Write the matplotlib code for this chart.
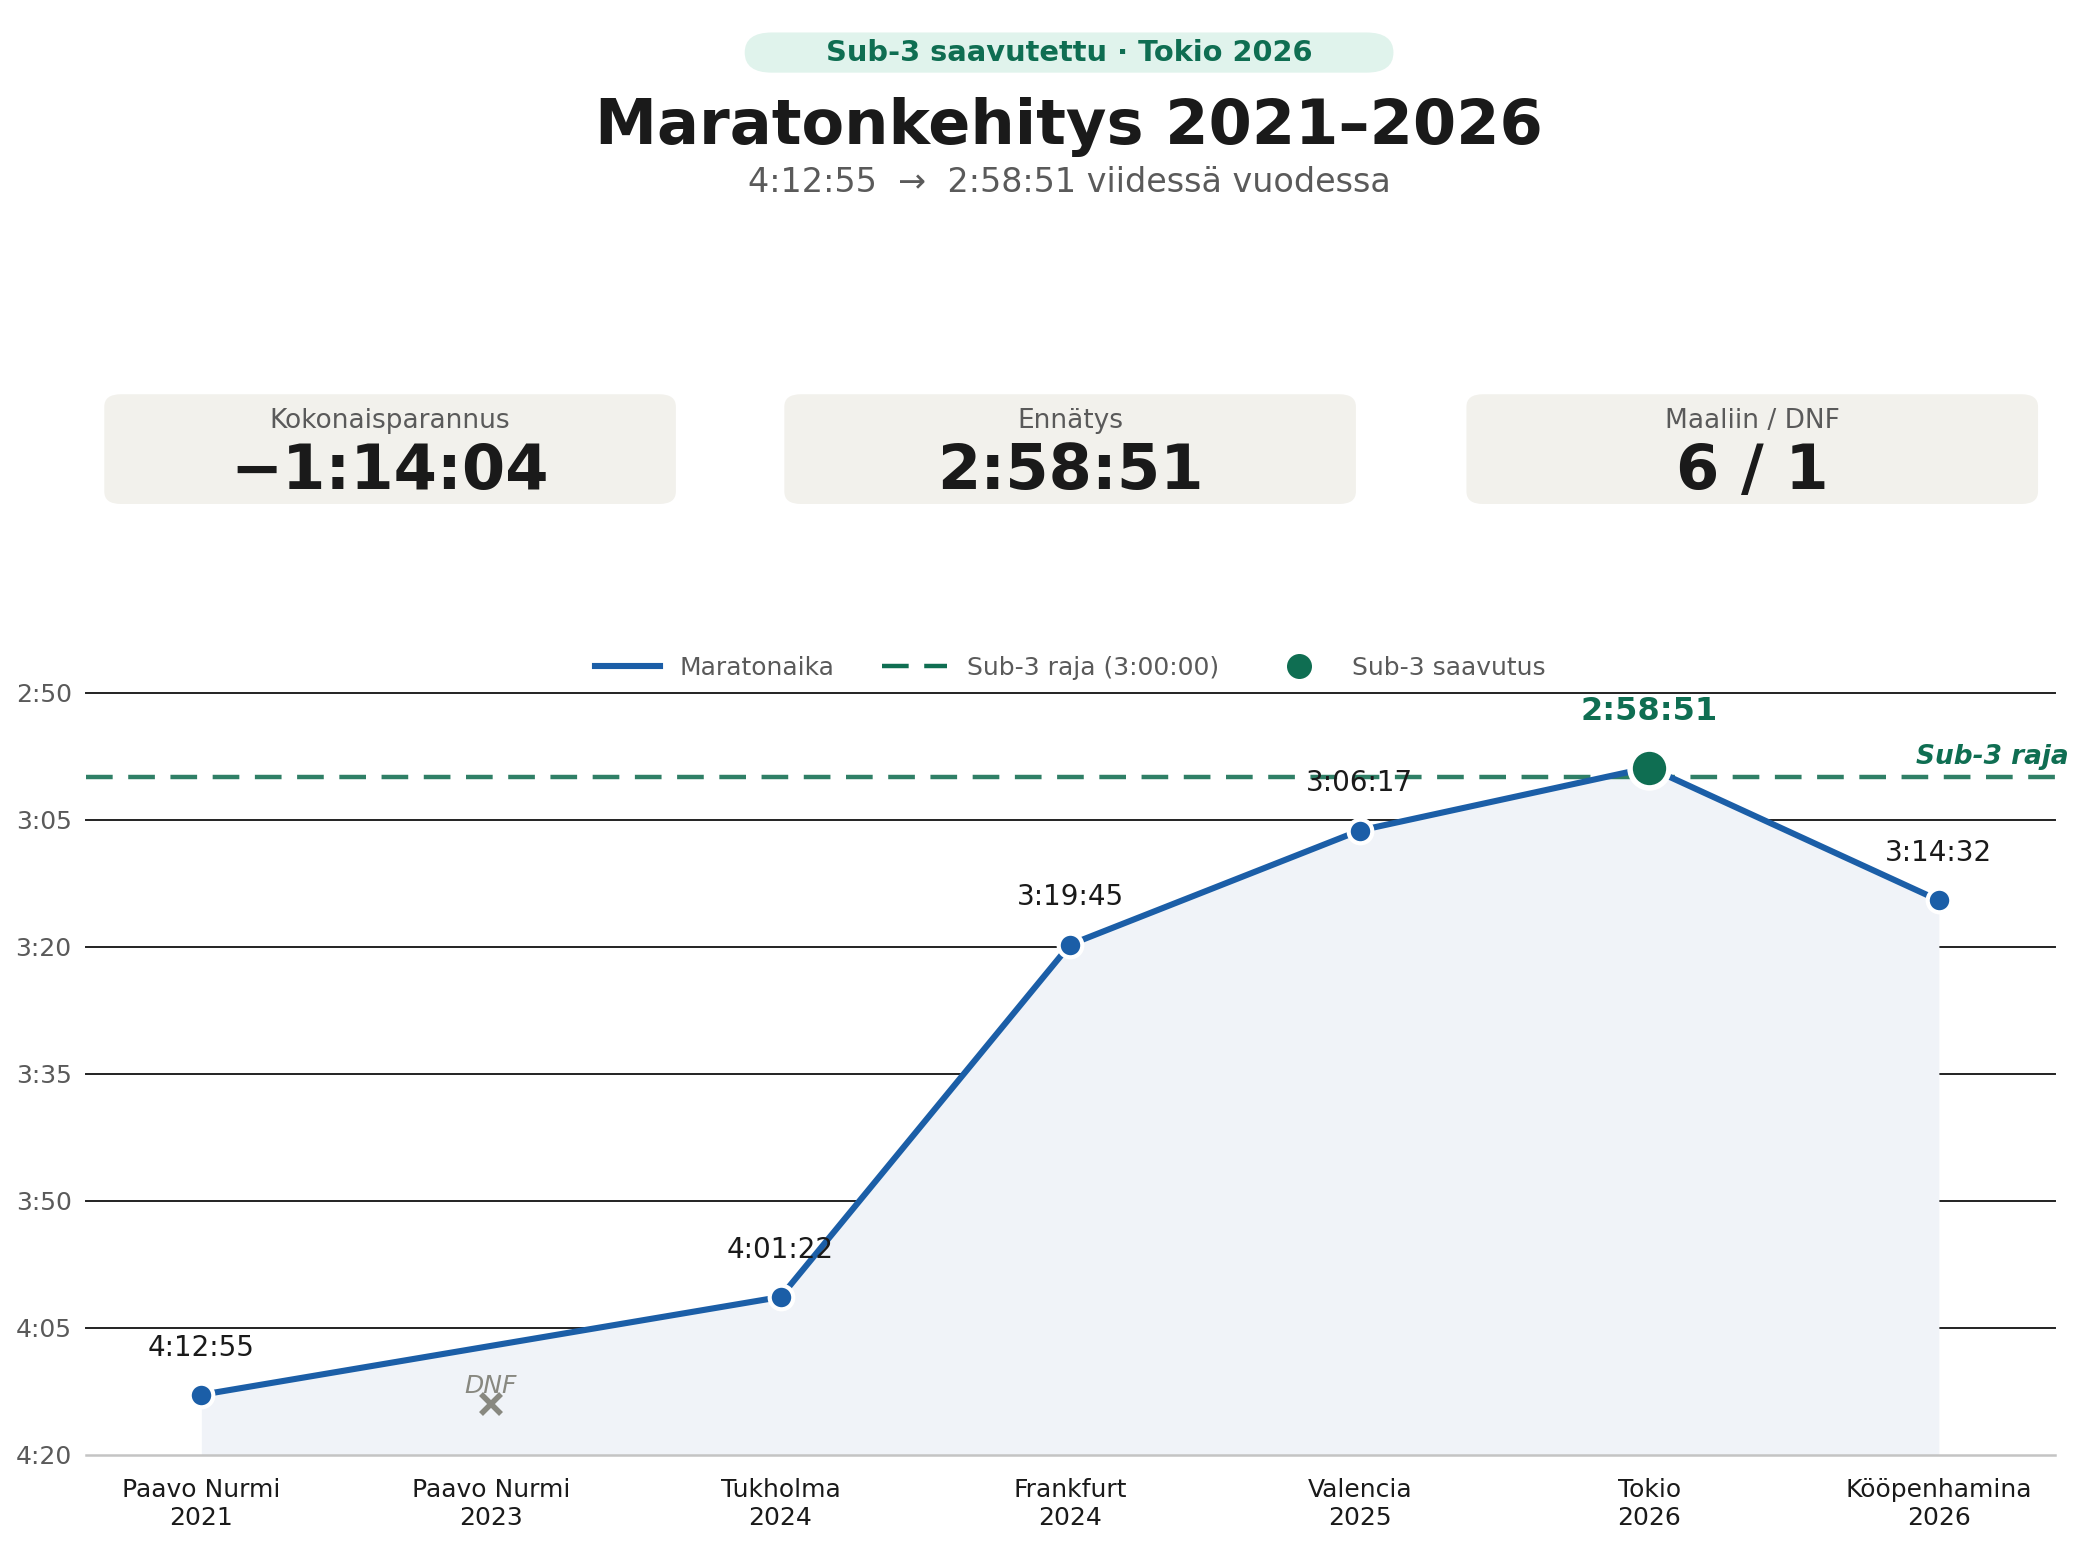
import matplotlib
matplotlib.use("Agg")
import matplotlib.pyplot as plt
import numpy as np
from matplotlib.patches import FancyBboxPatch
from matplotlib.lines import Line2D
from matplotlib.ticker import FuncFormatter
import matplotlib.transforms as mtransforms

plt.rcParams['font.family'] = ['DejaVu Sans']

# ---------------- data ----------------
races = ["Paavo Nurmi", "Paavo Nurmi", "Tukholma", "Frankfurt", "Valencia", "Tokio", "Kööpenhamina"]
years = ["2021", "2023", "2024", "2024", "2025", "2026", "2026"]
finish_times = ["4:12:55", None, "4:01:22", "3:19:45", "3:06:17", "2:58:51", "3:14:32"]
dnf_marker_time = "4:14:00"
sub3_time = "3:00:00"
best_index = 5
kpi_labels = ["Kokonaisparannus", "Ennätys", "Maaliin / DNF"]
kpi_values = ["\u22121:14:04", "2:58:51", "6 / 1"]
y_min_time, y_max_time, y_step = "2:50:00", "4:20:00", 15

BLUE = "#1b5ea7"
GREEN = "#0f6e52"
GREEN_DASH = "#2f7f66"
DARK = "#1a1a1a"
GRAY = "#5a5a5a"


def to_min(t):
    h, m, s = (int(v) for v in t.split(":"))
    return h * 60 + m + s / 60.0


fig = plt.figure(figsize=(10.43, 7.73), dpi=200)
fig.patch.set_facecolor("white")

# ---------------- header ----------------
badge = FancyBboxPatch((0.357, 0.953), 0.311, 0.026,
                       boxstyle="round,pad=0,rounding_size=0.013",
                       transform=fig.transFigure, facecolor="#e0f3ec",
                       edgecolor="none")
fig.patches.append(badge)
fig.text(0.5126, 0.966, "Sub-3 saavutettu · Tokio 2026", ha="center", va="center",
         fontsize=10.4, fontweight="bold", color=GREEN)
fig.text(0.5126, 0.918, "Maratonkehitys 2021\u20132026", ha="center", va="center",
         fontsize=22.4, fontweight="bold", color=DARK)
fig.text(0.5126, 0.882, "4:12:55  \u2192  2:58:51 viidessä vuodessa", ha="center", va="center",
         fontsize=12, color=GRAY)

# ---------------- KPI cards ----------------
card_x = [0.050, 0.376, 0.703]
for cx, lab, val in zip(card_x, kpi_labels, kpi_values):
    card = FancyBboxPatch((cx, 0.674), 0.274, 0.071,
                          boxstyle="round,pad=0,rounding_size=0.008",
                          transform=fig.transFigure, facecolor="#f2f1ec",
                          edgecolor="none")
    fig.patches.append(card)
    fig.text(cx + 0.137, 0.728, lab, ha="center", va="center", fontsize=9.5, color=GRAY)
    fig.text(cx + 0.137, 0.695, val, ha="center", va="center", fontsize=22.4,
             fontweight="bold", color=DARK)

# ---------------- chart ----------------
ax = fig.add_axes([0.041, 0.059, 0.944, 0.493])

xs = [i for i, t in enumerate(finish_times) if t is not None]
ys = [to_min(t) for t in finish_times if t is not None]
ytop = to_min(y_min_time)
ybot = to_min(y_max_time)

ax.fill_between(xs, ys, ybot, color="#f0f3f8", zorder=1, lw=0)
ax.plot(xs, ys, color=BLUE, lw=2.2, zorder=3, solid_capstyle="round")
norm_x = [x for x in xs if x != best_index]
norm_y = [y for x, y in zip(xs, ys) if x != best_index]
ax.plot(norm_x, norm_y, "o", color=BLUE, markersize=8.5, markeredgecolor="white",
        markeredgewidth=1.5, zorder=4)
best_y = to_min(finish_times[best_index])
ax.plot([best_index], [best_y], "o", color=GREEN, markersize=14,
        markeredgecolor="white", markeredgewidth=2, zorder=5)

sub3 = to_min(sub3_time)
ax.axhline(sub3, color=GREEN_DASH, lw=1.6, dashes=(6, 3.5), zorder=2)

# DNF
dnf_idx = finish_times.index(None)
ax.plot([dnf_idx], [to_min(dnf_marker_time)], marker="x", color="#888880",
        markersize=7, markeredgewidth=2, zorder=4, linestyle="none")
ax.annotate("DNF", (dnf_idx, to_min(dnf_marker_time)), xytext=(0, 6.5),
            textcoords="offset points", ha="center", va="center",
            fontsize=9, style="italic", color="#888880")

# value labels
for x, t in zip(range(len(finish_times)), finish_times):
    if t is None:
        continue
    if x == best_index:
        ax.annotate(t, (x, to_min(t)), xytext=(0, 20), textcoords="offset points",
                    ha="center", va="center", fontsize=11.5, fontweight="bold", color=GREEN)
    else:
        ax.annotate(t, (x, to_min(t)), xytext=(0, 17), textcoords="offset points",
                    ha="center", va="center", fontsize=10, color=DARK)

trans = mtransforms.blended_transform_factory(ax.transAxes, ax.transData)
ax.text(1.007, sub3 - 2.4, "Sub-3 raja", transform=trans, ha="right", va="center",
        fontsize=9.5, fontweight="bold", style="italic", color=GREEN)

ax.set_xlim(-0.4, 6.4)
ax.set_ylim(ybot, ytop)
ax.set_yticks(np.arange(ytop, ybot + 0.1, y_step))
ax.yaxis.set_major_formatter(FuncFormatter(lambda v, p: f"{int(round(v))//60}:{int(round(v))%60:02d}"))
ax.set_xticks(range(len(races)))
ax.set_xticklabels([f"{r}\n{y}" for r, y in zip(races, years)])
ax.tick_params(axis="x", length=0, pad=8.5, labelsize=9, labelcolor=DARK)
ax.tick_params(axis="y", length=0, pad=5, labelsize=9, labelcolor=GRAY)

ax.grid(axis="y", color="#222222", lw=0.7, zorder=0)
ax.set_axisbelow(True)
gl = ax.get_ygridlines()
for g in gl:
    g.set_clip_on(False)
if gl:
    gl[-1].set_visible(False)
for s in ["top", "right", "left"]:
    ax.spines[s].set_visible(False)
ax.spines["bottom"].set_color("#c4c4c4")
ax.spines["bottom"].set_linewidth(0.9)

handles = [
    Line2D([0], [0], color=BLUE, lw=2.2),
    Line2D([0], [0], color=GREEN, lw=1.6, dashes=(6, 3.5)),
    Line2D([0], [0], marker="o", color=GREEN, linestyle="none", markersize=8),
]
leg = ax.legend(handles, ["Maratonaika", "Sub-3 raja (3:00:00)", "Sub-3 saavutus"],
                loc="lower center", bbox_to_anchor=(0.5, 1.0), ncol=3, frameon=False,
                fontsize=9, handlelength=2.6, columnspacing=1.9, labelcolor=GRAY,
                borderaxespad=0.1)

fig.savefig("out.png", dpi=200, facecolor="white")
